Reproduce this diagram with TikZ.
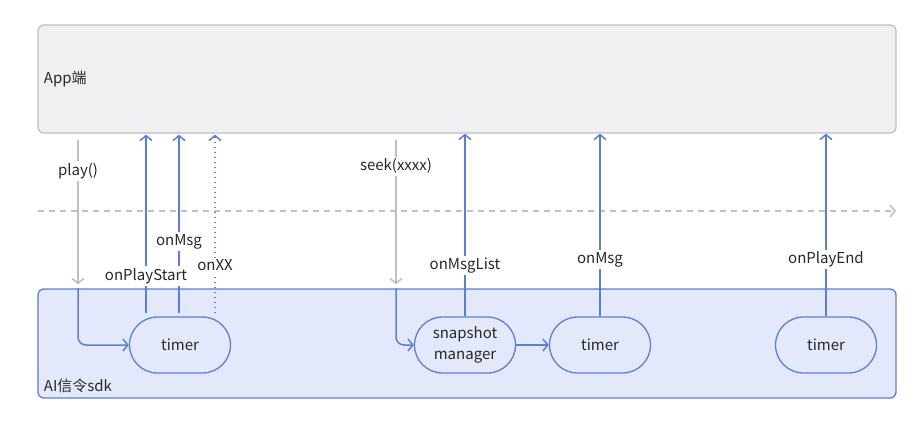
\documentclass[tikz,border=0pt]{standalone}
\usepackage{fontspec}
\setmainfont{Noto Sans CJK SC}
\usetikzlibrary{arrows.meta,calc}
\definecolor{appfill}{RGB}{240,240,242}
\definecolor{appline}{RGB}{192,192,196}
\definecolor{sdkfill}{RGB}{227,233,250}
\definecolor{sdkline}{RGB}{92,126,214}
\definecolor{callgray}{RGB}{192,192,192}
\definecolor{textdark}{RGB}{40,40,40}

\begin{document}
\begin{tikzpicture}[x=1pt, y=1pt, font=\fontsize{15}{21}\selectfont, text=textdark,
  layer/.style={draw, line width=1.3pt, rounded corners=6pt, minimum width=858pt, inner sep=0pt},
  pill/.style={draw=sdkline, fill=sdkfill, line width=1.3pt, rounded corners=28pt,
    minimum width=101pt, minimum height=56pt, align=center, inner sep=0pt},
  call/.style={callgray, line width=1.5pt, -{Straight Barb[length=5pt,width=12pt]}},
  back/.style={sdkline, line width=1.5pt, -{Straight Barb[length=5pt,width=12pt]}},
  lbl/.style={fill=white, inner sep=2pt, text=textdark}]

\useasboundingbox (0,0) rectangle (920,-421);
\fill[white] (0,0) rectangle (920,-421);

% 1. LAYERS
\node[layer, draw=appline, fill=appfill, minimum height=108pt] (app) at (467,-79) {};
\node[anchor=west] (applbl) at ([xshift=3pt]app.west) {App端};
\node[layer, draw=sdkline, fill=sdkfill, minimum height=109pt] (sdk) at (467,-343.5) {};
\node[anchor=south west] (sdklbl) at ([shift={(3pt,2pt)}]sdk.south west) {AI信令sdk};

% Time axis
\coordinate (axisL) at (38,-211);
\coordinate (axisR) at (896,-211);
\draw[callgray, line width=1.5pt, dash pattern=on 6pt off 5pt, -{Straight Barb[length=5pt,width=12pt]}] (axisL) -- (axisR);

% 2. SDK NODES
\node[pill] (t1) at (180,-345) {timer};
\node[pill] (snap) at (465,-345) {snapshot\\manager};
\node[pill] (t2) at (600,-345) {timer};
\node[pill] (t3) at (826,-345) {timer};
\draw[back] (snap) -- (t2);

% 3. CALLS FROM APP
\coordinate (playx) at (78,0);
\coordinate (seekx) at (396,0);
\draw[call, shorten <=6pt, shorten >=4pt] (playx |- app.south) -- node[lbl, pos=0.24] (playlbl) {play()} (playx |- sdk.north);
\draw[back, rounded corners=8pt] (playx |- sdk.north) |- (t1.west);
\draw[call, shorten <=6pt, shorten >=4pt] (seekx |- app.south) -- node[lbl, pos=0.21] (seeklbl) {seek(xxxx)} (seekx |- sdk.north);
\draw[back, rounded corners=8pt] (seekx |- sdk.north) |- (snap.west);

% 4. CALLBACKS TO APP
\draw[back, shorten <=3pt, shorten >=1pt] ([xshift=-1pt]t1.north) -- node[lbl, pos=0.41] (msglbl) {onMsg} ([xshift=-1pt]t1.north |- app.south);
\draw[back, shorten <=3pt, shorten >=1pt] ([xshift=-34pt]t1.north) -- node[lbl, pos=0.22] (startlbl) {onPlayStart} ([xshift=-34pt]t1.north |- app.south);
\draw[back, dash pattern=on 1.5pt off 3.5pt, shorten <=3pt, shorten >=1pt] ([xshift=35pt]t1.north) -- node[lbl, pos=0.28] (xxlbl) {onXX} ([xshift=35pt]t1.north |- app.south);
\draw[back] (snap.north) -- node[lbl, pos=0.28] (listlbl) {onMsgList} (snap.north |- app.south);
\draw[back] (t2.north) -- node[lbl, pos=0.31] (msg2lbl) {onMsg} (t2.north |- app.south);
\draw[back] (t3.north) -- node[lbl, pos=0.31] (endlbl) {onPlayEnd} (t3.north |- app.south);

\end{tikzpicture}
\end{document}
